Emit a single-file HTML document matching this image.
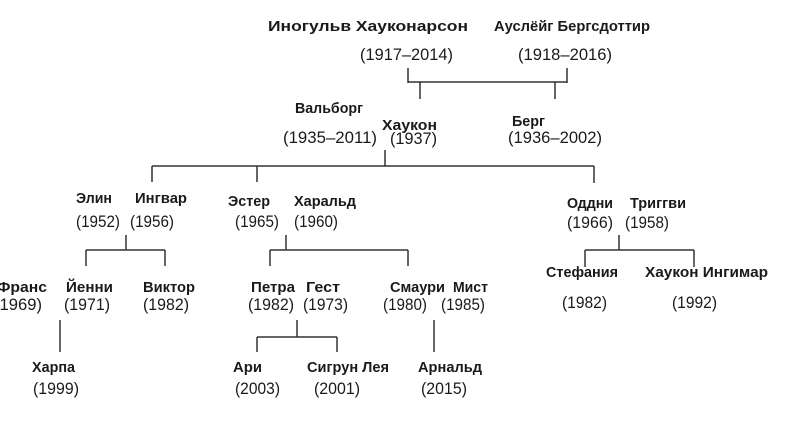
<!DOCTYPE html>
<html><head><meta charset="utf-8"><style>
html,body{margin:0;padding:0;background:#fff;}
svg{display:block}
.n{font-family:"Liberation Sans",sans-serif;font-weight:bold;font-size:14.5px;fill:#1a1a1a}
.y{font-family:"Liberation Sans",sans-serif;font-size:17px;fill:#1a1a1a}
line{stroke:#333;stroke-width:1.5}
</style></head><body>
<svg width="785" height="428" viewBox="0 0 785 428" xmlns="http://www.w3.org/2000/svg">
<line x1="408" y1="68" x2="408" y2="83"/><line x1="567" y1="68" x2="567" y2="83"/>
<line x1="408" y1="82" x2="567" y2="82"/>
<line x1="420" y1="82" x2="420" y2="99"/><line x1="555" y1="82" x2="555" y2="99"/>
<line x1="385" y1="150" x2="385" y2="166"/>
<line x1="152" y1="166" x2="594" y2="166"/>
<line x1="152" y1="166" x2="152" y2="182"/><line x1="257" y1="166" x2="257" y2="182"/><line x1="594" y1="166" x2="594" y2="183"/>
<line x1="126" y1="235" x2="126" y2="250"/><line x1="86" y1="250" x2="165" y2="250"/>
<line x1="86" y1="250" x2="86" y2="266"/><line x1="165" y1="250" x2="165" y2="266"/>
<line x1="286" y1="235" x2="286" y2="250"/><line x1="270" y1="250" x2="408" y2="250"/>
<line x1="270" y1="250" x2="270" y2="266"/><line x1="408" y1="250" x2="408" y2="266"/>
<line x1="619" y1="235" x2="619" y2="250"/><line x1="585" y1="250" x2="694" y2="250"/>
<line x1="585" y1="250" x2="585" y2="267"/><line x1="694" y1="250" x2="694" y2="267"/>
<line x1="60" y1="320" x2="60" y2="352"/>
<line x1="297" y1="320" x2="297" y2="337"/><line x1="257" y1="337" x2="337" y2="337"/>
<line x1="257" y1="337" x2="257" y2="352"/><line x1="337" y1="337" x2="337" y2="352"/>
<line x1="434" y1="320" x2="434" y2="352"/>
<text class="n" lengthAdjust="spacingAndGlyphs" x="268" y="31" textLength="200">Иногульв Хауконарсон</text>
<text class="y" lengthAdjust="spacingAndGlyphs" x="360" y="60" textLength="93">(1917–2014)</text>
<text class="n" lengthAdjust="spacingAndGlyphs" x="494" y="31" textLength="156">Ауслёйг Бергсдоттир</text>
<text class="y" lengthAdjust="spacingAndGlyphs" x="518" y="60" textLength="94">(1918–2016)</text>
<text class="n" lengthAdjust="spacingAndGlyphs" x="295" y="113" textLength="68">Вальборг</text>
<text class="y" lengthAdjust="spacingAndGlyphs" x="283" y="143" textLength="94">(1935–2011)</text>
<text class="n" lengthAdjust="spacingAndGlyphs" x="382" y="130" textLength="55">Хаукон</text>
<text class="y" lengthAdjust="spacingAndGlyphs" x="390" y="144" textLength="47">(1937)</text>
<text class="n" lengthAdjust="spacingAndGlyphs" x="512" y="126" textLength="33">Берг</text>
<text class="y" lengthAdjust="spacingAndGlyphs" x="508" y="143" textLength="94">(1936–2002)</text>
<text class="n" lengthAdjust="spacingAndGlyphs" x="76" y="203" textLength="36">Элин</text>
<text class="n" lengthAdjust="spacingAndGlyphs" x="135" y="203" textLength="52">Ингвар</text>
<text class="y" lengthAdjust="spacingAndGlyphs" x="76" y="227" textLength="44">(1952)</text>
<text class="y" lengthAdjust="spacingAndGlyphs" x="130" y="227" textLength="44">(1956)</text>
<text class="n" lengthAdjust="spacingAndGlyphs" x="228" y="206" textLength="42">Эстер</text>
<text class="n" lengthAdjust="spacingAndGlyphs" x="294" y="206" textLength="62">Харальд</text>
<text class="y" lengthAdjust="spacingAndGlyphs" x="235" y="227" textLength="44">(1965)</text>
<text class="y" lengthAdjust="spacingAndGlyphs" x="294" y="227" textLength="44">(1960)</text>
<text class="n" lengthAdjust="spacingAndGlyphs" x="567" y="208" textLength="46">Оддни</text>
<text class="n" lengthAdjust="spacingAndGlyphs" x="630" y="208" textLength="56">Триггви</text>
<text class="y" lengthAdjust="spacingAndGlyphs" x="567" y="228" textLength="46">(1966)</text>
<text class="y" lengthAdjust="spacingAndGlyphs" x="625" y="228" textLength="44">(1958)</text>
<text class="n" lengthAdjust="spacingAndGlyphs" x="-3" y="292" textLength="50">Франс</text>
<text class="n" lengthAdjust="spacingAndGlyphs" x="66" y="292" textLength="47">Йенни</text>
<text class="n" lengthAdjust="spacingAndGlyphs" x="143" y="292" textLength="52">Виктор</text>
<text class="y" lengthAdjust="spacingAndGlyphs" x="-6" y="310" textLength="48">(1969)</text>
<text class="y" lengthAdjust="spacingAndGlyphs" x="64" y="310" textLength="46">(1971)</text>
<text class="y" lengthAdjust="spacingAndGlyphs" x="143" y="310" textLength="46">(1982)</text>
<text class="n" lengthAdjust="spacingAndGlyphs" x="251" y="292" textLength="44">Петра</text>
<text class="n" lengthAdjust="spacingAndGlyphs" x="306" y="292" textLength="34">Гест</text>
<text class="y" lengthAdjust="spacingAndGlyphs" x="248" y="310" textLength="46">(1982)</text>
<text class="y" lengthAdjust="spacingAndGlyphs" x="303" y="310" textLength="45">(1973)</text>
<text class="n" lengthAdjust="spacingAndGlyphs" x="390" y="292" textLength="55">Смаури</text>
<text class="n" lengthAdjust="spacingAndGlyphs" x="453" y="292" textLength="35">Мист</text>
<text class="y" lengthAdjust="spacingAndGlyphs" x="383" y="310" textLength="44">(1980)</text>
<text class="y" lengthAdjust="spacingAndGlyphs" x="441" y="310" textLength="44">(1985)</text>
<text class="n" lengthAdjust="spacingAndGlyphs" x="546" y="277" textLength="72">Стефания</text>
<text class="n" lengthAdjust="spacingAndGlyphs" x="645" y="277" textLength="123">Хаукон Ингимар</text>
<text class="y" lengthAdjust="spacingAndGlyphs" x="562" y="308" textLength="45">(1982)</text>
<text class="y" lengthAdjust="spacingAndGlyphs" x="672" y="308" textLength="45">(1992)</text>
<text class="n" lengthAdjust="spacingAndGlyphs" x="32" y="372" textLength="43">Харпа</text>
<text class="y" lengthAdjust="spacingAndGlyphs" x="33" y="394" textLength="46">(1999)</text>
<text class="n" lengthAdjust="spacingAndGlyphs" x="233" y="372" textLength="29">Ари</text>
<text class="y" lengthAdjust="spacingAndGlyphs" x="235" y="394" textLength="45">(2003)</text>
<text class="n" lengthAdjust="spacingAndGlyphs" x="307" y="372" textLength="82">Сигрун Лея</text>
<text class="y" lengthAdjust="spacingAndGlyphs" x="314" y="394" textLength="46">(2001)</text>
<text class="n" lengthAdjust="spacingAndGlyphs" x="418" y="372" textLength="64">Арнальд</text>
<text class="y" lengthAdjust="spacingAndGlyphs" x="421" y="394" textLength="46">(2015)</text>
</svg>
</body></html>
